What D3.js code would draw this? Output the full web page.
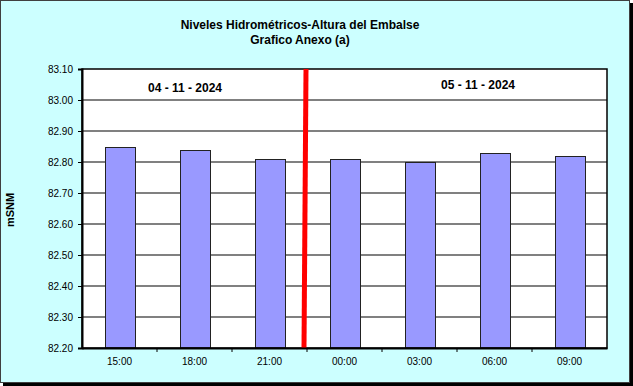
<!DOCTYPE html>
<html lang="es">
<head>
  <meta charset="UTF-8">
  <title>Niveles Hidrométricos-Altura del Embalse</title>
  <style>
    body { margin: 0; overflow: hidden; background: #fff; }
    svg text { font-family: "Liberation Sans", Arial, sans-serif; }
    .title { font-size: 12px; font-weight: bold; }
    .axis text { font-size: 10px; fill: #000; }
    .grid line { stroke: #808080; stroke-width: 2px; }
    .bar { fill: #9999ff; stroke: #222; stroke-width: 1px; }
    .date { font-size: 12px; font-weight: bold; }
  </style>
</head>
<body>
  <script src="https://d3js.org/d3.v7.min.js"></script>
  <script>
    const width = 633;
    const height = 386;

    // data
    const hours = ["15:00", "18:00", "21:00", "00:00", "03:00", "06:00", "09:00"];
    const levels = [82.85, 82.84, 82.81, 82.81, 82.80, 82.83, 82.82];
    const yTicks = [82.20, 82.30, 82.40, 82.50, 82.60, 82.70, 82.80, 82.90, 83.00, 83.10];
    const dates = ["04 - 11 - 2024", "05 - 11 - 2024"];

    const margin = { top: 69, right: 26, bottom: 38, left: 82 };
    const plotW = 607 - margin.left;
    const plotH = 348 - margin.top;

    const svg = d3.select("body").append("svg")
      .attr("width", width)
      .attr("height", height);

    // chart area with shadow
    svg.append("rect").attr("x", 3).attr("y", 383).attr("width", 630).attr("height", 3).attr("fill", "#000");
    svg.append("rect").attr("x", 630).attr("y", 3).attr("width", 3).attr("height", 383).attr("fill", "#000");
    svg.append("rect")
      .attr("x", 0.5).attr("y", 0.5)
      .attr("width", 629).attr("height", 382)
      .attr("fill", "#ccffff")
      .attr("stroke", "#404040");

    svg.append("text").attr("class", "title")
      .attr("x", 300).attr("y", 29).attr("text-anchor", "middle")
      .text("Niveles Hidrométricos-Altura del Embalse");
    svg.append("text").attr("class", "title")
      .attr("x", 300).attr("y", 44).attr("text-anchor", "middle")
      .text("Grafico Anexo (a)");

    svg.append("text")
      .attr("transform", "translate(14,210) rotate(-90)")
      .attr("text-anchor", "middle")
      .style("font-size", "11px").style("font-weight", "bold")
      .text("mSNM");

    const g = svg.append("g").attr("transform", `translate(${margin.left},${margin.top})`);

    const x = d3.scaleBand()
      .domain(hours)
      .range([0, plotW])
      .paddingInner(0.6)
      .paddingOuter(0.3);

    const y = d3.scaleLinear()
      .domain([82.20, 83.10])
      .range([plotH, 0]);

    g.append("rect")
      .attr("width", plotW).attr("height", plotH)
      .attr("fill", "#fff");

    g.append("g").attr("class", "grid")
      .selectAll("line")
      .data(yTicks.slice(1, -1))
      .enter().append("line")
      .attr("x1", 0).attr("x2", plotW)
      .attr("y1", d => y(d)).attr("y2", d => y(d));

    g.selectAll(".bar")
      .data(levels)
      .enter().append("rect")
      .attr("class", "bar")
      .attr("x", (d, i) => Math.round(x(hours[i])) + 0.5)
      .attr("y", d => Math.round(y(d)) + 0.5)
      .attr("width", x.bandwidth())
      .attr("height", d => plotH - Math.round(y(d)) - 0.5);

    // plot border
    g.append("rect")
      .attr("x", 0).attr("y", 0)
      .attr("width", plotW).attr("height", plotH)
      .attr("fill", "none")
      .attr("stroke", "#000")
      .attr("stroke-width", 1.5);

    // day separator
    const sep = x("00:00") - x.step() * x.paddingInner() / 2 - 2;
    g.append("line")
      .attr("x1", sep + 1).attr("x2", sep - 1)
      .attr("y1", 0).attr("y2", plotH)
      .attr("stroke", "#ff0000")
      .attr("stroke-width", 5);

    const yAxis = d3.axisLeft(y)
      .tickValues(yTicks)
      .tickSize(4)
      .tickPadding(5)
      .tickFormat(d3.format(".2f"));
    g.append("g").attr("class", "axis").call(yAxis)
      .call(a => a.select(".domain").attr("stroke-width", 2));

    const xAxis = d3.axisBottom(x).tickSize(0).tickPadding(10);
    g.append("g").attr("class", "axis")
      .attr("transform", `translate(0,${plotH})`)
      .call(xAxis)
      .call(a => a.select(".domain").attr("stroke-width", 2));

    // ticks between categories
    g.append("g").selectAll("line")
      .data(hours.slice(1))
      .enter().append("line")
      .attr("x1", d => x(d) - x.step() * x.paddingInner() / 2)
      .attr("x2", d => x(d) - x.step() * x.paddingInner() / 2)
      .attr("y1", plotH).attr("y2", plotH + 4)
      .attr("stroke", "#000");

    g.append("text").attr("class", "date")
      .attr("x", 103).attr("y", 23).attr("text-anchor", "middle")
      .text(dates[0]);
    g.append("text").attr("class", "date")
      .attr("x", 396).attr("y", 20).attr("text-anchor", "middle")
      .text(dates[1]);
  </script>
</body>
</html>
